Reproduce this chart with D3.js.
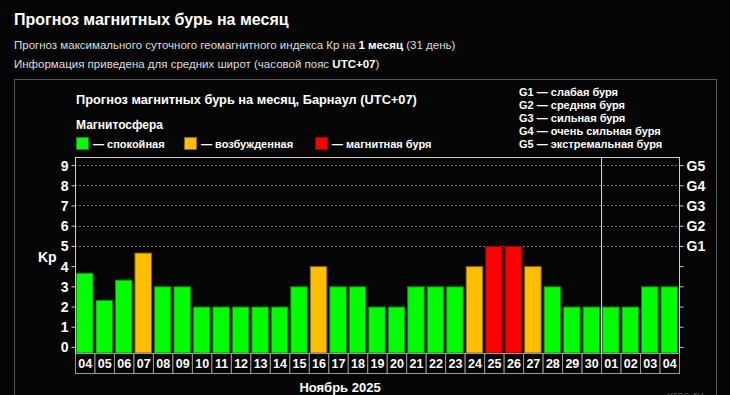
<!DOCTYPE html>
<html>
<head>
<meta charset="utf-8">
<script src="https://cdn.jsdelivr.net/npm/d3@7"></script>
<style>
  html, body { margin: 0; padding: 0; background: #050505; }
  body { width: 730px; height: 395px; overflow: hidden; font-family: "Liberation Sans", Arial, sans-serif; }
  svg text { font-family: "Liberation Sans", Arial, sans-serif; }
</style>
</head>
<body>
<svg id="chart" width="730" height="395"></svg>
<script>
// days of forecast (Nov 4 .. Dec 4)
var days = ["04","05","06","07","08","09","10","11","12","13","14","15","16","17","18","19",
            "20","21","22","23","24","25","26","27","28","29","30","01","02","03","04"];
var kp = [3.67,2.33,3.33,4.67,3,3,2,2,2,2,2,3,4,3,3,2,
          2,3,3,3,4,5,5,4,3,2,2,2,2,3,3];
var yTicks = [0,1,2,3,4,5,6,7,8,9];
var gLevels = ["G1","G2","G3","G4","G5"];
var gNames = ["G1 — слабая буря","G2 — средняя буря","G3 — сильная буря","G4 — очень сильная буря","G5 — экстремальная буря"];
var legendNames = ["— спокойная","— возбужденная","— магнитная буря"];
var legendColors = ["#00ff00","#ffbf00","#ff0000"];
var monthLabel = "Ноябрь 2025";

function colorOf(v) {
    if (v >= 5) return legendColors[2];
    if (v >= 4) return legendColors[1];
    return legendColors[0];
}
function strokeOf(v) {
    if (v >= 5) return "#8a0000";
    if (v >= 4) return "#8a6500";
    return "#0a8a0a";
}

var svg = d3.select("#chart");

// page header
svg.append("text").attr("x",14).attr("y",25)
   .attr("fill","#fff").style("font-size","16px").style("font-weight","bold")
   .text("Прогноз магнитных бурь на месяц");

var l1 = svg.append("text").attr("x",14).attr("y",49).attr("fill","#ddd").style("font-size","11.5px");
l1.append("tspan").text("Прогноз максимального суточного геомагнитного индекса Кр на ");
l1.append("tspan").style("font-weight","bold").attr("fill","#fff").text("1 месяц");
l1.append("tspan").text(" (31 день)");

var l2 = svg.append("text").attr("x",14).attr("y",68).attr("fill","#ddd").style("font-size","11.5px");
l2.append("tspan").text("Информация приведена для средних широт (часовой пояс ");
l2.append("tspan").style("font-weight","bold").attr("fill","#fff").text("UTC+07");
l2.append("tspan").text(")");

// panel border
svg.append("rect").attr("x",14.5).attr("y",79.5).attr("width",702).attr("height",330)
   .attr("fill","none").attr("stroke","#555");

// panel title + legend
svg.append("text").attr("x",76).attr("y",104).attr("fill","#fff")
   .style("font-size","12.8px").style("font-weight","bold")
   .text("Прогноз магнитных бурь на месяц, Барнаул (UTC+07)");
svg.append("text").attr("x",76).attr("y",129).attr("fill","#fff")
   .style("font-size","12px").style("font-weight","bold")
   .text("Магнитосфера");

var legX = [76, 184, 315];
var leg = svg.append("g").selectAll("g").data(legendNames).enter().append("g")
   .attr("transform", function(d,i){ return "translate(" + legX[i] + ",137)"; });
leg.append("rect").attr("x",0.5).attr("y",0.5).attr("width",12).attr("height",12)
   .attr("fill", function(d,i){ return legendColors[i]; })
   .attr("stroke", function(d,i){ return ["#0a8a0a","#8a6500","#8a0000"][i]; });
leg.append("text").attr("x",17).attr("y",10.5).attr("fill","#fff")
   .style("font-size","11px").style("font-weight","bold")
   .text(function(d){ return d; });

svg.append("g").selectAll("text").data(gNames).enter().append("text")
   .attr("x",519).attr("y",function(d,i){ return 96 + i*13; })
   .attr("fill","#fff").style("font-size","11px").style("font-weight","bold")
   .text(function(d){ return d; });

// plot
var pLeft = 75, pRight = 679, pTop = 157, pBottom = 353;
var x = d3.scaleBand().domain(d3.range(days.length)).range([pLeft,pRight]).paddingInner(0.1).paddingOuter(0.05);
var xb = d3.scaleBand().domain(d3.range(days.length)).range([pLeft,pRight]);
var y = d3.scaleLinear().domain([-0.3,9.4]).range([pBottom,pTop]);

// dotted grid at G levels
svg.append("g").selectAll("line").data([5,6,7,8,9]).enter().append("line")
   .attr("x1",pLeft).attr("x2",pRight)
   .attr("y1",function(d){ return Math.round(y(d))+0.5; })
   .attr("y2",function(d){ return Math.round(y(d))+0.5; })
   .attr("stroke","#777").attr("stroke-dasharray","2,2");

// bars
svg.append("g").selectAll("rect").data(kp).enter().append("rect")
   .attr("x",function(d,i){ return x(i)+0.5; })
   .attr("width",x.bandwidth()-1)
   .attr("y",function(d){ return y(d)+0.5; })
   .attr("height",function(d){ return pBottom - y(d) - 0.5; })
   .attr("fill",colorOf).attr("stroke",strokeOf);

// plot frame
svg.append("line").attr("x1",pLeft+0.5).attr("x2",pLeft+0.5).attr("y1",pTop).attr("y2",pBottom).attr("stroke","#ccc");
svg.append("line").attr("x1",pRight+0.5).attr("x2",pRight+0.5).attr("y1",pTop).attr("y2",pBottom).attr("stroke","#ccc");
svg.append("line").attr("x1",pLeft).attr("x2",pRight).attr("y1",pTop+0.5).attr("y2",pTop+0.5).attr("stroke","#ccc");

// month divider
var divIdx = days.indexOf("01");
svg.append("line").attr("x1",xb(divIdx)+0.5).attr("x2",xb(divIdx)+0.5)
   .attr("y1",pTop).attr("y2",pBottom).attr("stroke","#ddd");

// left axis
var yl = svg.append("g").attr("transform","translate(" + (pLeft+0.5) + ",0)")
   .call(d3.axisLeft(y).tickValues(yTicks).tickSize(4).tickPadding(3).tickFormat(d3.format("d")));
yl.select(".domain").remove();
yl.selectAll("line").attr("stroke","#ccc");
yl.selectAll("text").attr("fill","#fff").style("font-size","14px").style("font-weight","bold")
   .attr("dy","0.36em");
svg.append("text").attr("x",38).attr("y",262).attr("fill","#fff")
   .style("font-size","14px").style("font-weight","bold").text("Kp");

// right axis
var yr = svg.append("g").attr("transform","translate(" + (pRight+0.5) + ",0)")
   .call(d3.axisRight(y).tickValues(yTicks).tickSize(4).tickPadding(3)
   .tickFormat(function(d){ return d >= 5 ? gLevels[d-5] : ""; }));
yr.select(".domain").remove();
yr.selectAll("line").attr("stroke","#ccc");
yr.selectAll("text").attr("fill","#fff").style("font-size","14px").style("font-weight","bold")
   .attr("dy","0.36em");

// day labels in boxes
var lab = svg.append("g").selectAll("g").data(days).enter().append("g")
   .attr("transform",function(d,i){ return "translate(" + xb(i) + "," + pBottom + ")"; });
lab.append("rect").attr("x",0.5).attr("y",0.5).attr("width",xb.bandwidth()).attr("height",20)
   .attr("fill","#050505").attr("stroke","#999");
lab.append("text").attr("x",xb.bandwidth()/2+0.5).attr("y",15).attr("text-anchor","middle")
   .attr("fill","#fff").style("font-size","12.5px").style("font-weight","bold")
   .text(function(d){ return d; });

svg.append("text").attr("x",340).attr("y",392).attr("text-anchor","middle").attr("fill","#fff")
   .style("font-size","13px").style("font-weight","bold").text(monthLabel);
svg.append("text").attr("x",667).attr("y",400).attr("fill","#555")
   .style("font-size","12px").text("xras.ru");
</script>
</body>
</html>
